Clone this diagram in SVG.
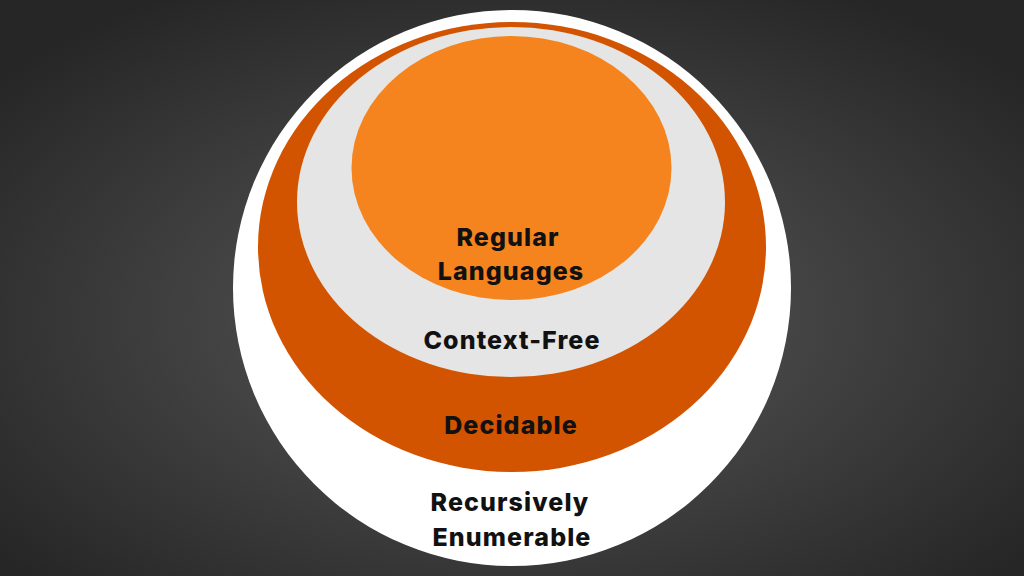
<svg xmlns="http://www.w3.org/2000/svg" width="1024" height="576" viewBox="0 0 1024 576">
<defs>
<radialGradient id="bg" cx="50%" cy="55%" r="65%">
<stop offset="0" stop-color="#5a5a5a"/><stop offset="1" stop-color="#262626"/>
</radialGradient>
<style>text{font-family:Inter,"Open Sans","Liberation Sans",sans-serif;font-weight:800;font-size:25px;letter-spacing:1.1px;fill:#111;text-anchor:middle}</style>
</defs>
<rect width="1024" height="576" fill="url(#bg)"/>
<g id="re"><ellipse cx="512" cy="288" rx="279" ry="278" fill="#ffffff"/></g>
<g id="decidable"><ellipse cx="512" cy="247" rx="254" ry="225" fill="#d35400"/></g>
<g id="cf"><ellipse cx="511" cy="202" rx="214" ry="175" fill="#e5e5e5"/></g>
<g id="regular"><ellipse cx="511.5" cy="168" rx="160" ry="132" fill="#f5841f"/></g>
<g id="labels">
<text x="508" y="246">Regular</text>
<text x="511" y="280">Languages</text>
<text x="512" y="349">Context-Free</text>
<text x="511" y="434">Decidable</text>
<text x="510" y="511">Recursively</text>
<text x="512" y="546">Enumerable</text>
</g>
<g id="connectors"/>
</svg>
